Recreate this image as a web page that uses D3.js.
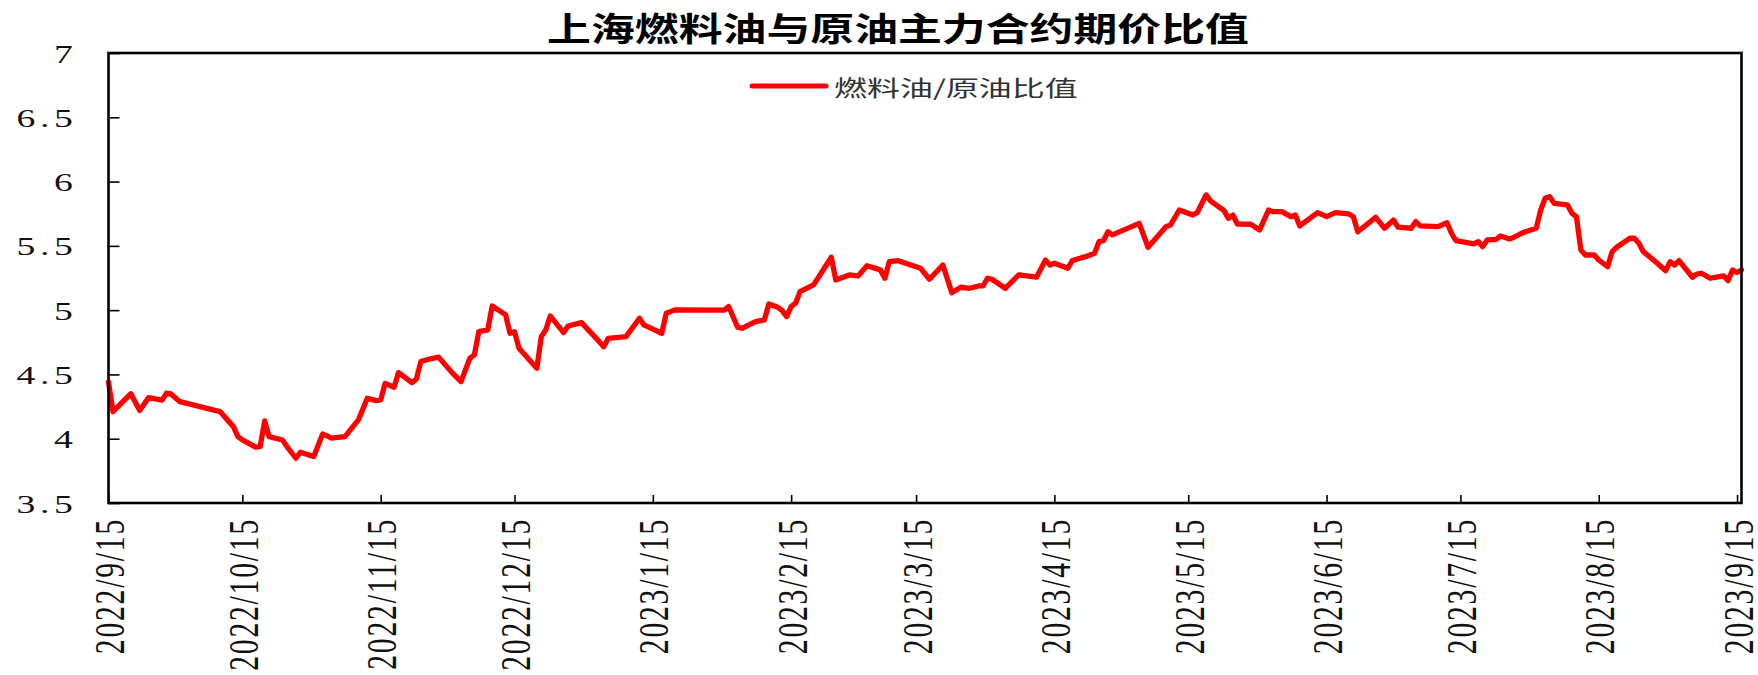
<!DOCTYPE html>
<html>
<head>
<meta charset="utf-8">
<script src="https://cdn.jsdelivr.net/npm/d3@7"></script>
<style>
  html, body { margin: 0; padding: 0; background: #fff; }
  svg { display: block; }
</style>
</head>
<body>
<svg id="chart" width="1758" height="675"></svg>
<script>
// ---------------- data ----------------
const title = "上海燃料油与原油主力合约期价比值";
const seriesName = "燃料油/原油比值";

const dates = [
  "2022-09-15","2022-09-16","2022-09-20","2022-09-22","2022-09-24","2022-09-27","2022-09-28","2022-09-29",
  "2022-10-01","2022-10-10","2022-10-12","2022-10-13","2022-10-14","2022-10-15","2022-10-18","2022-10-19",
  "2022-10-20","2022-10-21","2022-10-24","2022-10-25","2022-10-27","2022-10-28","2022-10-31","2022-11-02",
  "2022-11-04","2022-11-07","2022-11-10","2022-11-12","2022-11-14","2022-11-15","2022-11-16","2022-11-18",
  "2022-11-19","2022-11-22","2022-11-23","2022-11-24","2022-11-26","2022-11-28","2022-12-01","2022-12-03",
  "2022-12-05","2022-12-06","2022-12-07","2022-12-09","2022-12-10","2022-12-13","2022-12-14","2022-12-15",
  "2022-12-16","2022-12-20","2022-12-21","2022-12-22","2022-12-23","2022-12-26","2022-12-27","2022-12-30",
  "2023-01-03","2023-01-04","2023-01-05","2023-01-09","2023-01-12","2023-01-13","2023-01-17","2023-01-18",
  "2023-01-20","2023-01-31","2023-02-01","2023-02-03","2023-02-04","2023-02-07","2023-02-09","2023-02-10",
  "2023-02-12","2023-02-13","2023-02-14","2023-02-15","2023-02-16","2023-02-17","2023-02-20","2023-02-21",
  "2023-02-24","2023-02-25","2023-02-28","2023-03-02","2023-03-04","2023-03-07","2023-03-08","2023-03-09",
  "2023-03-11","2023-03-16","2023-03-18","2023-03-21","2023-03-23","2023-03-25","2023-03-27","2023-03-29",
  "2023-03-30","2023-03-31","2023-04-01","2023-04-04","2023-04-07","2023-04-11","2023-04-13","2023-04-14",
  "2023-04-15","2023-04-18","2023-04-19","2023-04-20","2023-04-22","2023-04-24","2023-04-25","2023-04-26",
  "2023-04-27","2023-04-28","2023-05-04","2023-05-06","2023-05-10","2023-05-11","2023-05-13","2023-05-16",
  "2023-05-17","2023-05-19","2023-05-20","2023-05-22","2023-05-23","2023-05-24","2023-05-25","2023-05-26",
  "2023-05-29","2023-05-31","2023-06-02","2023-06-03","2023-06-05","2023-06-07","2023-06-08","2023-06-09",
  "2023-06-13","2023-06-15","2023-06-17","2023-06-20","2023-06-21","2023-06-22","2023-06-26","2023-06-28",
  "2023-06-30","2023-07-01","2023-07-04","2023-07-05","2023-07-06","2023-07-10","2023-07-12","2023-07-13",
  "2023-07-14","2023-07-18","2023-07-19","2023-07-20","2023-07-21","2023-07-23","2023-07-24","2023-07-26",
  "2023-07-27","2023-07-29","2023-08-01","2023-08-02","2023-08-03","2023-08-04","2023-08-05","2023-08-08",
  "2023-08-09","2023-08-10","2023-08-11","2023-08-12","2023-08-14","2023-08-15","2023-08-17","2023-08-18",
  "2023-08-19","2023-08-22","2023-08-23","2023-08-24","2023-08-25","2023-08-28","2023-08-30","2023-08-31",
  "2023-09-01","2023-09-02","2023-09-05","2023-09-06","2023-09-07","2023-09-09","2023-09-11","2023-09-12",
  "2023-09-13","2023-09-14","2023-09-15","2023-09-16"
];

const ratio = [
  4.44,4.21,4.35,4.22,4.32,4.30,4.354,4.348,
  4.288,4.211,4.133,4.094,4.016,3.991,3.934,3.94,
  4.138,4.016,3.99,3.939,3.848,3.895,3.861,4.037,
  4.004,4.016,4.146,4.315,4.296,4.302,4.43,4.40,
  4.514,4.437,4.463,4.60,4.62,4.634,4.514,4.444,
  4.626,4.652,4.833,4.846,5.033,4.963,4.82,4.833,
  4.704,4.548,4.794,4.846,4.955,4.825,4.877,4.903,
  4.755,4.716,4.781,4.794,4.937,4.885,4.82,4.976,
  5.002,5.0,5.028,4.867,4.859,4.911,4.924,5.048,
  5.022,4.996,4.95,5.028,5.054,5.144,5.196,5.248,
  5.411,5.235,5.274,5.266,5.346,5.313,5.248,5.377,
  5.385,5.326,5.24,5.351,5.136,5.178,5.17,5.188,
  5.188,5.248,5.24,5.17,5.274,5.256,5.39,5.351,
  5.364,5.326,5.385,5.396,5.416,5.442,5.533,5.54,
  5.61,5.585,5.675,5.489,5.649,5.662,5.779,5.74,
  5.758,5.896,5.85,5.80,5.775,5.714,5.74,5.67,
  5.668,5.624,5.779,5.766,5.766,5.727,5.74,5.655,
  5.758,5.727,5.758,5.748,5.727,5.61,5.722,5.637,
  5.701,5.645,5.637,5.689,5.655,5.649,5.68,5.598,
  5.54,5.515,5.533,5.494,5.546,5.551,5.577,5.554,
  5.567,5.603,5.637,5.779,5.87,5.883,5.831,5.818,
  5.753,5.727,5.468,5.429,5.429,5.39,5.338,5.455,
  5.489,5.559,5.559,5.52,5.455,5.369,5.307,5.377,
  5.351,5.385,5.256,5.281,5.287,5.248,5.261,5.266,
  5.23,5.313,5.292,5.313
];

const yTicks = [3.5, 4, 4.5, 5, 5.5, 6, 6.5, 7];
const xTicks = [
  "2022-09-15","2022-10-15","2022-11-15","2022-12-15","2023-01-15","2023-02-15","2023-03-15",
  "2023-04-15","2023-05-15","2023-06-15","2023-07-15","2023-08-15","2023-09-15"
];
const xDomain = ["2022-09-15", "2023-09-16"];

// ---------------- drawing ----------------
const parse = d3.timeParse("%Y-%m-%d");
const data = dates.map((d, i) => ({ date: parse(d), value: ratio[i] }));

const plot = { left: 108.5, right: 1741.5, top: 53, bottom: 503 };

const x = d3.scaleTime().domain(xDomain.map(parse)).range([plot.left, plot.right]);
const y = d3.scaleLinear().domain([3.5, 7]).range([plot.bottom, plot.top]);

const svg = d3.select("#chart");
svg.append("rect").attr("width", 1758).attr("height", 675).attr("fill", "#fff");

// title
svg.append("text")
  .attr("transform", "translate(898,27) scale(1.33,1)")
  .attr("text-anchor", "middle")
  .attr("dominant-baseline", "central")
  .attr("font-family", "'Noto Sans CJK SC', sans-serif")
  .attr("font-weight", 700)
  .attr("font-size", 33)
  .attr("fill", "#000")
  .text(title);

// y axis ticks/labels
const gy = svg.append("g")
  .attr("transform", `translate(${plot.left},0)`)
  .call(d3.axisLeft(y).tickValues(yTicks).tickSize(-11).tickFormat(d3.format("~g")));
gy.select(".domain").remove();
gy.selectAll(".tick line").attr("stroke", "#000").attr("stroke-width", 1.6);
gy.selectAll(".tick text")
  .attr("x", null).attr("dy", null)
  .attr("text-anchor", "end")
  .attr("transform", "translate(-31,9) scale(1.45,1)")
  .attr("font-family", "'Liberation Serif', serif")
  .attr("font-size", 26)
  .attr("letter-spacing", 3.2)
  .attr("fill", "#111");

// x axis ticks/labels
const fmt = d3.timeFormat("%Y/%-m/%-d");
const gx = svg.append("g")
  .attr("transform", `translate(0,${plot.bottom})`)
  .call(d3.axisBottom(x).tickValues(xTicks.map(parse)).tickSize(-8).tickFormat(fmt));
gx.select(".domain").remove();
gx.selectAll(".tick line").attr("stroke", "#000").attr("stroke-width", 1.6);
gx.selectAll(".tick text")
  .attr("y", null).attr("dy", null)
  .attr("text-anchor", "end")
  .attr("transform", "translate(15,15) rotate(-90) scale(1,1.4)")
  .attr("font-family", "'Liberation Serif', serif")
  .attr("font-size", 29.6)
  .attr("letter-spacing", 1.8)
  .attr("fill", "#111");

// line
const line = d3.line().x(d => x(d.date)).y(d => y(d.value));
svg.append("path")
  .datum(data)
  .attr("d", line)
  .attr("fill", "none")
  .attr("stroke", "#ff0000")
  .attr("stroke-width", 5.3)
  .attr("stroke-linejoin", "round")
  .attr("stroke-linecap", "round");

// plot frame
svg.append("rect")
  .attr("x", plot.left).attr("y", plot.top)
  .attr("width", plot.right - plot.left).attr("height", plot.bottom - plot.top)
  .attr("fill", "none").attr("stroke", "#000").attr("stroke-width", 2.6);

// legend
const lg = svg.append("g").attr("transform", "translate(752,86)");
lg.append("line").attr("x1", 0).attr("x2", 74).attr("y1", 0).attr("y2", 0)
  .attr("stroke", "#ff0000").attr("stroke-width", 5).attr("stroke-linecap", "round");
lg.append("text")
  .attr("transform", "translate(82,0) scale(1.5,1)")
  .attr("dominant-baseline", "central")
  .attr("font-family", "'Noto Sans CJK SC', sans-serif")
  .attr("font-size", 22)
  .attr("fill", "#333")
  .text(seriesName);
</script>
</body>
</html>
